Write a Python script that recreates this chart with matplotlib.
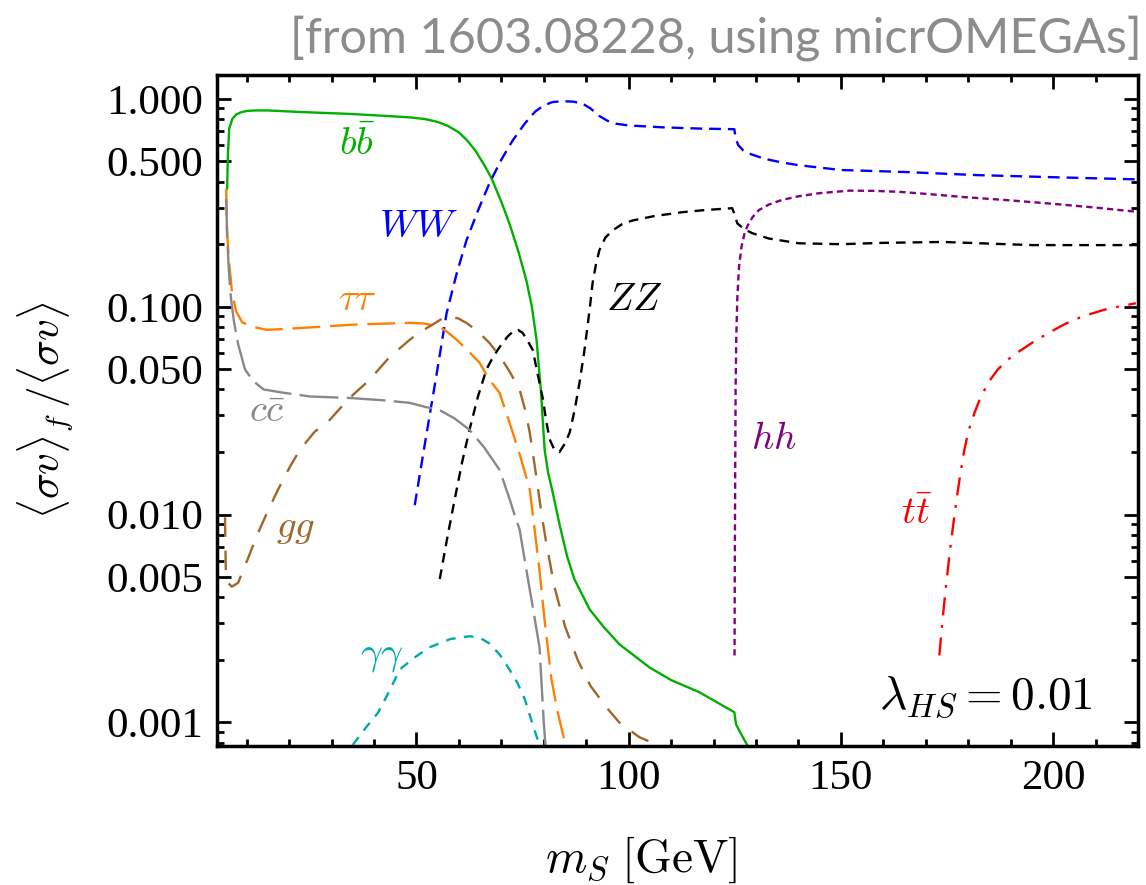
import numpy as np
import matplotlib
matplotlib.use("Agg")
import matplotlib.pyplot as plt
from matplotlib.ticker import FixedLocator, LogLocator, NullFormatter, FormatStrFormatter

plt.rcParams['mathtext.fontset'] = 'cm'
plt.rcParams['font.family'] = 'Liberation Serif'
plt.rcParams['lines.scale_dashes'] = False

# channel curves: (m_S [GeV], fraction)
bb_m = [5.4, 5.6, 5.9, 6.6, 7.5, 8.5, 10, 12, 15, 22.6, 34.3, 42, 48.4, 52, 55, 57.5, 60, 62, 64, 66,
        67.7, 70, 71.9, 74, 75.9, 77.2, 78.3, 79.3, 80.2, 81, 82.1, 83.7, 85.5, 87.2, 90.8, 94, 97.8,
        104.9, 110, 116.6, 124.9, 125.3, 126.5, 127.9]
bb_v = [0.37, 0.55, 0.72, 0.80, 0.84, 0.86, 0.875, 0.88, 0.88, 0.865, 0.847, 0.83, 0.815, 0.80, 0.775,
        0.74, 0.69, 0.63, 0.56, 0.48, 0.415, 0.32, 0.252, 0.185, 0.134, 0.10, 0.0693, 0.04, 0.0206, 0.016,
        0.0128, 0.009, 0.0063, 0.0049, 0.0035, 0.0029, 0.00238, 0.00184, 0.0016, 0.0014, 0.00112, 0.00098,
        0.00088, 0.00078]

ww_m = [49.6, 52, 54.8, 57.1, 59.5, 61.8, 64.5, 67.2, 70, 72.7, 75.5, 78, 80, 82, 84.4, 87, 89.1, 91, 93,
        95, 97, 100, 108, 116.6, 124.9, 125.2, 125.8, 127, 128.5, 132, 136, 140, 150, 165, 182, 200, 220]
ww_v = [0.0111, 0.022, 0.048, 0.093, 0.145, 0.209, 0.29, 0.393, 0.51, 0.632, 0.76, 0.87, 0.93, 0.965, 0.975,
        0.97, 0.95, 0.9, 0.83, 0.785, 0.76, 0.745, 0.73, 0.72, 0.715, 0.65, 0.60, 0.565, 0.545, 0.515, 0.495,
        0.48, 0.455, 0.445, 0.43, 0.42, 0.41]

zz_m = [55.5, 57.3, 59, 60.8, 62.5, 64.5, 66.5, 68, 69.6, 71.5, 73, 73.9, 75, 76.3, 77.4, 78.6, 79.8, 80.6,
        81.4, 82.5, 83.7, 85, 86.1, 87.3, 88.4, 89.4, 90.3, 91, 91.5, 92.3, 93.1, 94.5, 96.2, 98.5, 100.9,
        106, 112.6, 118, 124.4, 124.9, 125.6, 127, 129.1, 133, 140.1, 150, 160, 174, 195, 220]
zz_v = [0.0049, 0.0078, 0.0118, 0.018, 0.0256, 0.037, 0.05, 0.057, 0.064, 0.072, 0.0768, 0.0774, 0.075,
        0.068, 0.062, 0.047, 0.036, 0.028, 0.023, 0.0205, 0.02, 0.022, 0.0248, 0.032, 0.0429, 0.058, 0.08,
        0.105, 0.13, 0.16, 0.187, 0.215, 0.233, 0.25, 0.26, 0.273, 0.285, 0.292, 0.298, 0.28, 0.252, 0.238,
        0.226, 0.213, 0.202, 0.2, 0.203, 0.205, 0.198, 0.198]

hh_m = [124.95, 125.0, 125.1, 125.2, 125.35, 125.6, 126, 126.6, 127.3, 128, 129.2, 130.7, 133, 136, 140,
        145, 152, 158, 164, 171, 179, 189, 199, 210, 220]
hh_v = [0.0021, 0.005, 0.015, 0.04, 0.07, 0.11, 0.155, 0.195, 0.225, 0.245, 0.27, 0.292, 0.31, 0.326, 0.34,
        0.352, 0.362, 0.361, 0.357, 0.348, 0.337, 0.326, 0.314, 0.30, 0.286]

tt_m = [173.2, 173.6, 174.2, 175, 175.8, 176.5, 177.3, 178, 179, 180, 181.5, 183, 185, 187, 189.5, 192,
        195.5, 199, 203, 207, 213, 219.5]
tt_v = [0.0021, 0.0026, 0.0035, 0.005, 0.007, 0.009, 0.012, 0.015, 0.02, 0.025, 0.031, 0.037, 0.044, 0.05,
        0.056, 0.061, 0.068, 0.075, 0.083, 0.09, 0.098, 0.104]

tau_m = [5.2, 5.3, 5.8, 6.5, 7.5, 9, 11.5, 14.8, 22.6, 35, 48.4, 52, 55.5, 57.5, 59.5, 62, 64.9, 67.2,
         69.6, 72.7, 74.5, 76.7, 78, 79, 80.2, 81.8, 83.2, 85.1]
tau_v = [0.37, 0.25, 0.17, 0.12, 0.095, 0.084, 0.08, 0.0774, 0.079, 0.082, 0.0837, 0.083, 0.080, 0.075,
         0.0693, 0.062, 0.0537, 0.0445, 0.0385, 0.0248, 0.019, 0.0132, 0.008, 0.0054, 0.0031, 0.00162,
         0.00114, 0.00078]

cc_m = [5.2, 5.4, 5.8, 6.3, 7.0, 8.0, 9.6, 11.5, 14, 18.6, 25, 34.3, 42, 48.4, 52, 55.5, 59, 62.5, 66,
        69.6, 72, 73.1, 74.3, 76.2, 77.5, 79, 80, 80.4]
cc_v = [0.33, 0.22, 0.15, 0.11, 0.085, 0.066, 0.05, 0.044, 0.04, 0.0386, 0.037, 0.0364, 0.0355, 0.0345,
        0.033, 0.0318, 0.029, 0.0256, 0.021, 0.0164, 0.0118, 0.01, 0.0085, 0.005, 0.0035, 0.0023, 0.001,
        0.00078]

gg_m = [4.9, 5.1, 5.6, 6.5, 8.0, 9, 10.1, 12.5, 14.8, 17.4, 20.2, 22.6, 26, 29.6, 34, 39, 43.7, 48.4, 51,
        53.8, 55.8, 57.8, 59.8, 61.8, 64.5, 67.2, 69.6, 71.9, 74.3, 75.6, 76.7, 78.3, 79.5, 80.5, 82.5, 85,
        88, 91, 94.8, 97.8, 102.5, 108]
gg_v = [0.0097, 0.0052, 0.0047, 0.0045, 0.0047, 0.0053, 0.006, 0.008, 0.0102, 0.0132, 0.017, 0.0206, 0.025,
        0.0286, 0.036, 0.0446, 0.0574, 0.0693, 0.076, 0.082, 0.087, 0.089, 0.088, 0.0836, 0.076, 0.067,
        0.058, 0.049, 0.04, 0.032, 0.0248, 0.015, 0.01, 0.0075, 0.0045, 0.0029, 0.002, 0.0015, 0.00118,
        0.001, 0.00085, 0.00076]

aa_m = [35, 38, 40.9, 43.5, 46.1, 49.5, 53.1, 58, 62.5, 65, 67.2, 69.8, 71.9, 73.8, 75.5, 77.8, 79]
aa_v = [0.00078, 0.00094, 0.00111, 0.0014, 0.0018, 0.00205, 0.0023, 0.00252, 0.0026, 0.00255, 0.0024,
        0.0021, 0.0018, 0.00155, 0.0013, 0.00092, 0.00078]

y_ticks = [0.001, 0.005, 0.010, 0.050, 0.100, 0.500, 1.000]
x_ticks = [50, 100, 150, 200]

fig = plt.figure(figsize=(11.46, 8.85), dpi=100)
ax = fig.add_axes([0.1893, 0.157, 0.8037, 0.758])

lw = 1.7
ax.plot(bb_m, bb_v, color='#00b000', lw=lw)
ax.plot(ww_m, ww_v, color='#0000ff', lw=lw, dashes=(8.5, 5))
ax.plot(zz_m, zz_v, color='black', lw=lw, dashes=(7, 5))
ax.plot(hh_m, hh_v, color='#800080', lw=lw, dashes=(4.5, 3))
ax.plot(tt_m, tt_v, color='#ff0000', lw=lw, dashes=(13, 7, 2, 7))
ax.plot(tau_m, tau_v, color='#ff8000', lw=lw, dashes=(20, 7))
ax.plot(cc_m, cc_v, color='#888888', lw=lw, dashes=(28, 6))
ax.plot(gg_m, gg_v, color='#a0662a', lw=lw, dashes=(14, 10))
ax.plot(aa_m, aa_v, color='#00aaaa', lw=lw, dashes=(7, 6))

ax.set_yscale('log')
ax.set_xlim(3, 220)
ax.set_ylim(7.7e-4, 1.3)

ax.yaxis.set_major_locator(FixedLocator(y_ticks))
ax.yaxis.set_major_formatter(FormatStrFormatter('%.3f'))
ax.yaxis.set_minor_locator(LogLocator(base=10, subs=np.arange(2, 10)))
ax.yaxis.set_minor_formatter(NullFormatter())
ax.xaxis.set_major_locator(FixedLocator(x_ticks))
ax.xaxis.set_minor_locator(FixedLocator(np.arange(10, 221, 10)))

ax.tick_params(which='both', direction='in', top=True, right=True, labelsize=31, width=2)
ax.tick_params(which='major', length=10, pad=10)
ax.tick_params(which='minor', length=5)
for s in ax.spines.values():
    s.set_linewidth(2.5)

ax.set_xlabel(r'$m_S\;[\mathrm{GeV}]$', fontsize=34)
ax.xaxis.set_label_coords(0.461, -0.132)
ax.set_ylabel(r'$\langle\sigma v\rangle_f\,/\langle\sigma v\rangle$', fontsize=31, labelpad=22)

lab = dict(fontsize=28, ha='center', va='center')
ax.text(36, 0.60, r'$b\bar{b}$', color='#00b000', **lab)
ax.text(50.5, 0.24, r'$WW$', color='#0000ff', **lab)
ax.text(36.2, 0.107, r'$\tau\tau$', color='#ff8000', **lab)
ax.text(101.3, 0.107, r'$ZZ$', color='black', **lab)
ax.text(14.8, 0.031, r'$c\bar{c}$', color='#888888', **lab)
ax.text(21.4, 0.0087, r'$gg$', color='#a0662a', **lab)
ax.text(134.3, 0.0229, r'$hh$', color='#800080', **lab)
ax.text(167.9, 0.0100, r'$t\bar{t}$', color='#ff0000', **lab)
ax.text(41.9, 0.0021, r'$\gamma\gamma$', color='#00aaaa', **lab)
ax.text(184.2, 0.00133, r'$\lambda_{HS} = 0.01$', fontsize=34, ha='center', va='center')

fig.text(0.996, 0.957, '[from 1603.08228, using micrOMEGAs]', color='#8c8c8c',
         fontsize=35, family='Lato', ha='right', va='center')

fig.savefig('out.png', dpi=100)
